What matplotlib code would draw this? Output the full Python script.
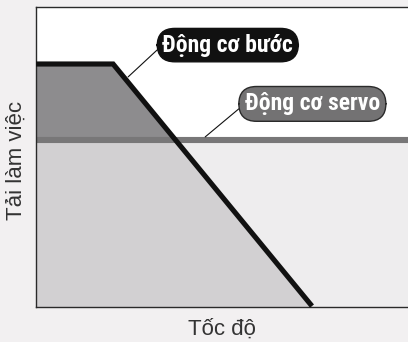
import matplotlib
matplotlib.use("Agg")
import matplotlib.pyplot as plt
import numpy as np

# stepper motor torque curve (speed, load) and servo constant load
stepper_speed = [0, 20.5, 73.4]
stepper_load = [81, 81, 0.3]
servo_load = 55.7

label_stepper = "Động cơ bước"
label_servo = "Động cơ servo"
xlabel = "Tốc độ"
ylabel = "Tải làm việc"

label_font = ["Roboto Condensed", "Liberation Sans Narrow", "Roboto", "DejaVu Sans"]

fig = plt.figure(figsize=(4.08, 3.42), dpi=100, facecolor="#f2f0f1")
ax = fig.add_axes([36 / 408, 35 / 342, 376 / 408, 300 / 342])
ax.set_xlim(0, 100)
ax.set_ylim(0, 100)
ax.set_facecolor("white")

ax.axhspan(0, servo_load, color="#eeedee", lw=0, zorder=0)

xs = np.array(stepper_speed)
ys = np.array(stepper_load)
xx = np.linspace(xs[0], xs[-1], 400)
yy = np.interp(xx, xs, ys)
ax.fill_between(xx, 0, np.minimum(yy, servo_load), color="#d2d0d2", lw=0, zorder=1)
ax.fill_between(xx, servo_load, yy, where=yy > servo_load, color="#8d8c8e", lw=0, zorder=1)

ax.axhline(servo_load, color="#787778", lw=4.4, zorder=2)
ax.plot(stepper_speed, stepper_load, color="#111111", lw=3.7, solid_capstyle="butt",
        solid_joinstyle="miter", zorder=3, clip_on=False)

ax.annotate(label_stepper, xy=(24.5, 76.7), xytext=(51, 87.3),
            ha="center", va="center", color="white", fontsize=17, fontweight="bold",
            family=label_font,
            bbox=dict(boxstyle="round,pad=0.22,rounding_size=0.75", fc="#111111", ec="#111111", lw=1),
            arrowprops=dict(arrowstyle="-", color="#111111", lw=0.8, relpos=(0, 0.5),
                            shrinkA=0, shrinkB=0), zorder=4)
ax.annotate(label_servo, xy=(45, servo_load + 1), xytext=(73.5, 67.7),
            ha="center", va="center", color="white", fontsize=17, fontweight="bold",
            family=label_font,
            bbox=dict(boxstyle="round,pad=0.25,rounding_size=0.75", fc="#737273", ec="#2a2a2a", lw=1),
            arrowprops=dict(arrowstyle="-", color="#111111", lw=0.8, relpos=(0, 0.5),
                            shrinkA=0, shrinkB=0), zorder=4)

ax.set_xticks([])
ax.set_yticks([])
for side in ax.spines:
    ax.spines[side].set_color("#2a2a2a")
    ax.spines[side].set_linewidth(1)

fig.text(222 / 408, 1 - 329 / 342, xlabel, ha="center", va="center", fontsize=16,
         color="#333333", family="Liberation Sans")
fig.text(16 / 408, 1 - 160 / 342, ylabel, ha="center", va="center", rotation=90,
         fontsize=16, color="#333333", family="Liberation Sans")

fig.savefig("out.png", dpi=100, facecolor=fig.get_facecolor())
